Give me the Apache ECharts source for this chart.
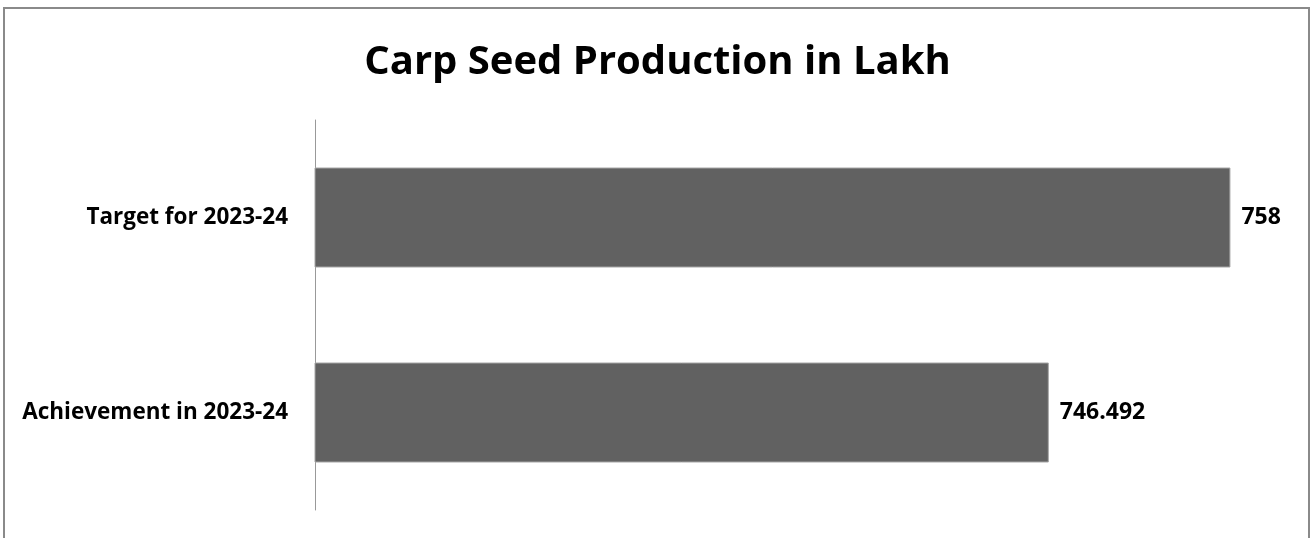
<!DOCTYPE html>
<html>
<head>
<meta charset="utf-8">
<script src="https://cdn.jsdelivr.net/npm/echarts@6/dist/echarts.min.js"></script>
<style>
  html, body { margin: 0; padding: 0; background: #fff; }
  #chart { width: 1315px; height: 538px; }
</style>
</head>
<body>
<div id="chart"></div>
<script>
const titleText = 'Carp Seed Production in Lakh'
const categories = ['Target for 2023-24', 'Achievement in 2023-24']
const values = [758, 746.492]
const axisMin = 700
const axisMax = 760

const myChart = echarts.init(document.getElementById('chart'))
myChart.setOption({
  backgroundColor: '#fff',
  animation: false,
  graphic: [
    {
      type: 'rect',
      shape: {x: 4, y: 8, width: 1305, height: 600},
      style: {fill: 'none', stroke: '#8a8a8a', lineWidth: 2}
    }
  ],
  title: {
    text: titleText,
    left: 'center',
    top: 38,
    textStyle: {
      fontFamily: 'Open Sans',
      fontWeight: 'bold',
      fontSize: 40,
      color: '#000'
    }
  },
  grid: {
    left: 315,
    right: 53,
    top: 120,
    bottom: 28,
    containLabel: false
  },
  xAxis: {
    type: 'value',
    min: axisMin,
    max: axisMax,
    show: false
  },
  yAxis: {
    type: 'category',
    inverse: true,
    data: categories,
    axisLine: {show: true, lineStyle: {color: '#999', width: 1}},
    axisTick: {show: false},
    axisLabel: {
      margin: 27,
      color: '#000',
      fontFamily: 'Open Sans',
      fontWeight: 'bold',
      fontSize: 22.5
    }
  },
  series: [
    {
      type: 'bar',
      data: values,
      barWidth: 100,
      itemStyle: {color: '#616161', borderColor: '#a6a6a6', borderWidth: 1},
      label: {
        show: true,
        position: 'right',
        distance: 11,
        color: '#000',
        fontFamily: 'Open Sans',
        fontWeight: 'bold',
        fontSize: 23
      }
    }
  ]
})
</script>
</body>
</html>
